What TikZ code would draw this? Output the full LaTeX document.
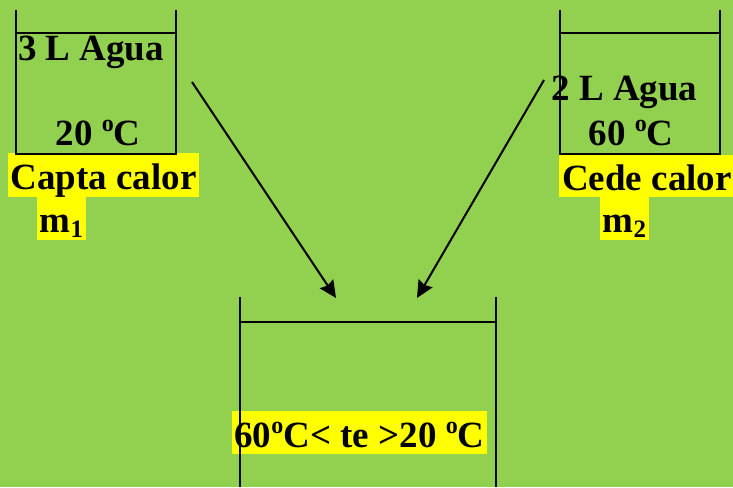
\documentclass[tikz,border=0pt]{standalone}
\usepackage{fontspec}
\setmainfont{Liberation Serif}
\usetikzlibrary{arrows.meta}
\definecolor{bggreen}{HTML}{92D050}
\definecolor{hl}{HTML}{FFFF00}
\newcommand\gr{\raisebox{14pt}{\fontsize{24}{24}\selectfont o}}
\newcommand\subi[1]{\raisebox{-5pt}{\fontsize{25}{25}\selectfont #1}}
\begin{document}
\begin{tikzpicture}[x=1pt,y=-1pt,
  txt/.style={inner sep=0pt,anchor=base,font=\fontsize{37}{40}\selectfont\bfseries},
  hlbox/.style={txt,fill=hl,text height=36pt,text depth=8pt,inner xsep=3pt},
  wall/.style={line width=2pt,black},
  arr/.style={line width=2pt,-{Stealth[length=17pt,width=16pt,inset=2pt]}}]
\fill[bggreen] (0,0) rectangle (733,487);
\useasboundingbox (0,0) rectangle (733,487);
% labels
\node[txt] (aguaA) at (91,60) {3 L Agua};
\node[txt] (tempA) at (98,145) {20 \gr C};
\node[hlbox] (capta) at (103.5,189) {Capta calor};
\node[hlbox,text height=35pt,inner xsep=3pt] (mA) at (61.5,232) {m\subi{1}};
\node[txt] (aguaB) at (624.5,100) {2 L Agua};
\node[txt] (tempB) at (631,145) {60 \gr C};
\node[hlbox,text height=35pt,text depth=7pt] (cede) at (647,190) {Cede calor};
\node[hlbox,text height=35pt,inner xsep=3pt] (mB) at (624.5,232) {m\subi{2}};
\node[hlbox,text height=36pt,text depth=7pt,inner xsep=2pt] (mix) at (359.5,447) {60\gr C< te >20 \gr C};
% beakers
\draw[wall] (16,10) -- (16,154) -- (176,154) -- (176,10);
\draw[wall] (16,33) -- (176,33);
\draw[wall] (560,10) -- (560,154) -- (720,154) -- (720,10);
\draw[wall] (560,33) -- (720,33);
\draw[wall] (240,297) -- (240,487);
\draw[wall] (496,297) -- (496,487);
\draw[wall] (240,322) -- (496,322);
% arrows
\coordinate (sA) at (192,82);
\coordinate (eA) at (336,298);
\coordinate (sB) at (544,80);
\coordinate (eB) at (417,298);
\draw[arr] (sA) -- (eA);
\draw[arr] (sB) -- (eB);
\end{tikzpicture}
\end{document}
